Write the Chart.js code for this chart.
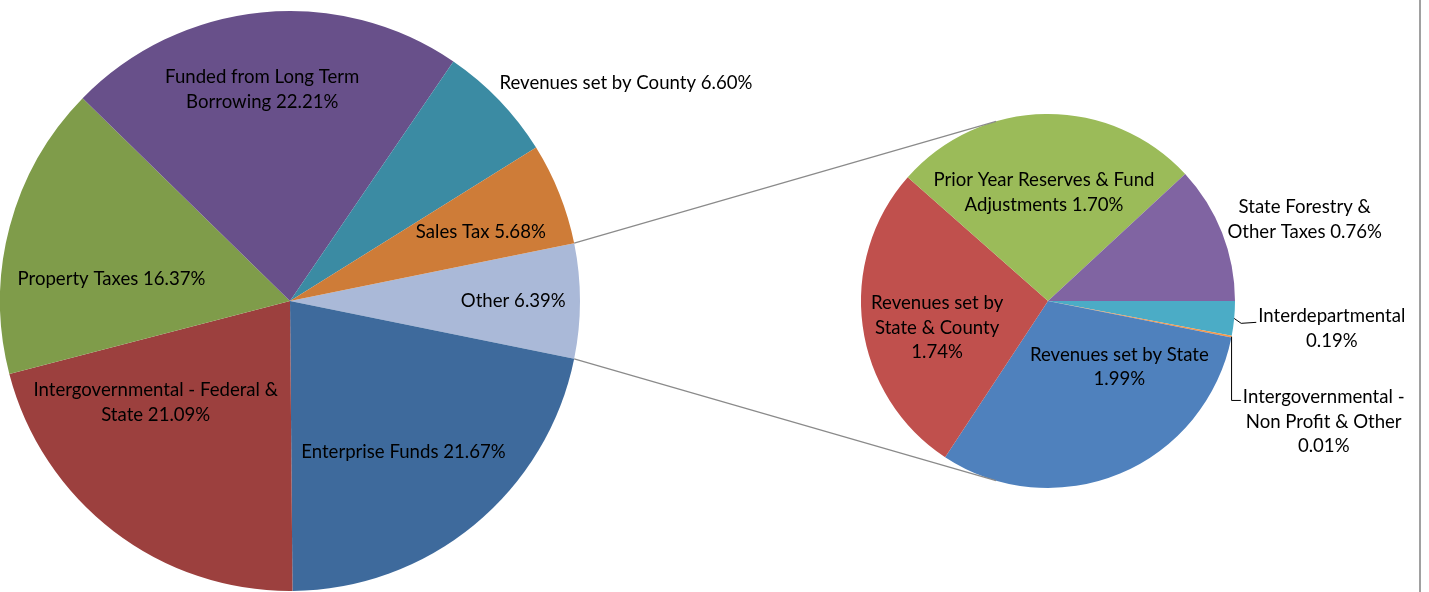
<!DOCTYPE html>
<html>
<head>
<meta charset="utf-8">
<script src="https://cdn.jsdelivr.net/npm/chart.js@4.4.0/dist/chart.umd.min.js"></script>
<style>
    html, body { margin: 0; padding: 0; background: #fff; }
    #wrap { position: relative; width: 1429px; height: 592px; overflow: hidden; }
    #wrap canvas { position: absolute; left: 0; top: 0; width: 1429px; height: 592px; }
    #edge { position: absolute; left: 1419px; top: 0; width: 2px; height: 592px; background: #a0a0a0; }
</style>
</head>
<body>
<div id="wrap">
    <canvas id="mainPie" width="1429" height="592"></canvas>
    <canvas id="splitPie" width="1429" height="592"></canvas>
    <div id="edge"></div>
</div>
<script>
// main pie (first slice is the "Other" one that gets split out)
const mainCategories = [
    'Other', 'Enterprise Funds', 'Intergovernmental - Federal & State', 'Property Taxes',
    'Funded from Long Term Borrowing', 'Revenues set by County', 'Sales Tax'
];
const mainValues = [6.39, 21.67, 21.09, 16.37, 22.21, 6.60, 5.68];
const mainColors = ['#aab9d8', '#3e6a9c', '#9c403e', '#7f9c4a', '#68508a', '#3b8ba3', '#ce7c38'];

// second pie = breakdown of "Other"
const otherCategories = [
    'Interdepartmental', 'Intergovernmental - Non Profit & Other', 'Revenues set by State',
    'Revenues set by State & County', 'Prior Year Reserves & Fund Adjustments', 'State Forestry & Other Taxes'
];
const otherValues = [0.19, 0.01, 1.99, 1.74, 1.70, 0.76];
const otherColors = ['#4bacc6', '#f79646', '#4f81bd', '#c0504d', '#9bbb59', '#8064a2'];

const FONT = '18.6px Lato, "Open Sans", sans-serif';
let mainChart = null;

// label placement: words per line, distance (fraction of radius), angle shift in degrees
const mainWrap = [[2], [3], [4, 2], [3], [4, 2], [5], [3]];
const mainPlace = [
    { frac: 0.77, shift: 0 },
    { frac: 0.65, shift: 2.5 },
    { frac: 0.58, shift: 15.5 },
    { frac: 0.62, shift: -8 },
    { frac: 0.735, shift: -1.8 },
    { frac: 1.38, shift: 10.9 },
    { frac: 0.70, shift: 1.8 }
];
const otherWrap = [[1, 1], [2, 4, 1], [4, 1], [3, 3, 1], [5, 2], [3, 3]];
const otherPlace = [
    { frac: 1.525, shift: 0.2, leader: 'bend' },
    { frac: 1.61, shift: 12.7, leader: 'elbow' },
    { frac: 0.52, shift: -24.5 },
    { frac: 0.61, shift: -6 },
    { frac: 0.58, shift: -1.4 },
    { frac: 1.44, shift: 3.8 }
];

const pieText = {
    id: 'pieText',
    afterDatasetsDraw(chart, args, opts) {
        const ctx = chart.ctx;
        const meta = chart.getDatasetMeta(0);
        const vals = chart.data.datasets[0].data;
        ctx.save();
        ctx.font = FONT;
        ctx.fillStyle = '#000';
        ctx.textAlign = 'center';
        ctx.textBaseline = 'middle';
        meta.data.forEach((arc, i) => {
            const p = opts.place[i];
            const words = (chart.data.labels[i] + ' ' + vals[i].toFixed(2) + '%').split(' ');
            const lines = [];
            let k = 0;
            opts.wrap[i].forEach(n => { lines.push(words.slice(k, k + n).join(' ')); k += n; });

            const mid = (arc.startAngle + arc.endAngle) / 2;
            const ang = mid + p.shift * Math.PI / 180;
            const cx = arc.x + Math.cos(ang) * arc.outerRadius * p.frac;
            const cy = arc.y + Math.sin(ang) * arc.outerRadius * p.frac;
            const lh = 24.5;
            const top = cy - (lines.length - 1) * lh / 2;
            lines.forEach((s, j) => ctx.fillText(s, cx, top + j * lh));

            if (p.leader) {
                // leader line from slice edge to the first text line
                const ex = arc.x + Math.cos(mid) * arc.outerRadius;
                const ey = arc.y + Math.sin(mid) * arc.outerRadius;
                const left = cx - ctx.measureText(lines[0]).width / 2;
                ctx.strokeStyle = '#000';
                ctx.lineWidth = 1;
                ctx.beginPath();
                ctx.moveTo(ex, ey);
                if (p.leader === 'elbow') {
                    ctx.lineTo(ex, top + 3);
                    ctx.lineTo(left - 2, top + 3);
                } else {
                    ctx.lineTo(ex + 7, top + 7);
                    ctx.lineTo(left - 2, top + 6);
                }
                ctx.stroke();
            }
        });
        ctx.restore();
    }
};

// grey lines from the "Other" slice, tangent to the second pie
const connectors = {
    id: 'connectors',
    afterDraw(chart) {
        if (!mainChart) return;
        const src = mainChart.getDatasetMeta(0).data[0];
        const dst = chart.getDatasetMeta(0).data[0];
        const R = dst.outerRadius;
        const ctx = chart.ctx;
        ctx.save();
        ctx.strokeStyle = '#8a8a8a';
        ctx.lineWidth = 1.2;
        [[src.startAngle, 1], [src.endAngle, -1]].forEach(([a, side]) => {
            const px = src.x + Math.cos(a) * src.outerRadius;
            const py = src.y + Math.sin(a) * src.outerRadius;
            const d = Math.hypot(px - dst.x, py - dst.y);
            const base = Math.atan2(py - dst.y, px - dst.x);
            const t = base + side * Math.acos(R / d);
            ctx.beginPath();
            ctx.moveTo(px, py);
            ctx.lineTo(dst.x + Math.cos(t) * R, dst.y + Math.sin(t) * R);
            ctx.stroke();
        });
        ctx.restore();
    }
};

function total(arr) {
    return arr.reduce((a, b) => a + b, 0);
}

function buildMainPie() {
    const ctx = document.getElementById('mainPie');
    mainChart = new Chart(ctx, {
        type: 'pie',
        data: {
            labels: mainCategories,
            datasets: [{ data: mainValues, backgroundColor: mainColors, borderWidth: 0 }]
        },
        options: {
            responsive: false,
            animation: false,
            events: [],
            devicePixelRatio: 1,
            // center the "Other" slice on the right side
            rotation: 90 - (mainValues[0] / total(mainValues)) * 180,
            layout: { padding: { left: 0, top: 11, right: 1429 - 580, bottom: 1 } },
            plugins: {
                legend: { display: false },
                tooltip: { enabled: false },
                pieText: { wrap: mainWrap, place: mainPlace }
            }
        },
        plugins: [pieText]
    });
}

function buildSplitPie() {
    const ctx = document.getElementById('splitPie');
    new Chart(ctx, {
        type: 'pie',
        data: {
            labels: otherCategories,
            datasets: [{ data: otherValues, backgroundColor: otherColors, borderWidth: 0 }]
        },
        options: {
            responsive: false,
            animation: false,
            events: [],
            devicePixelRatio: 1,
            rotation: 90,
            layout: { padding: { left: 861, top: 114, right: 194, bottom: 104 } },
            plugins: {
                legend: { display: false },
                tooltip: { enabled: false },
                pieText: { wrap: otherWrap, place: otherPlace }
            }
        },
        plugins: [pieText, connectors]
    });
}

buildMainPie();
buildSplitPie();
</script>
</body>
</html>
